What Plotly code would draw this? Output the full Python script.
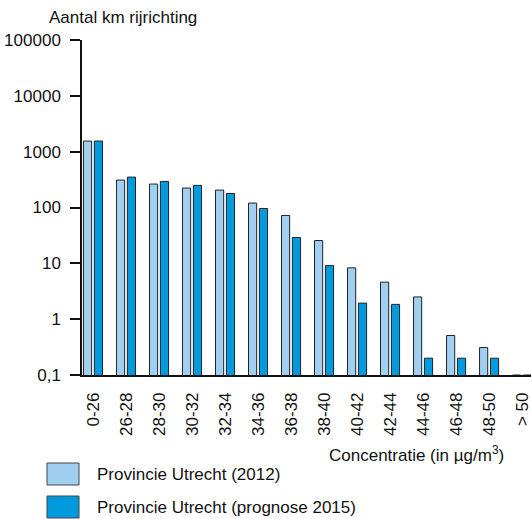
import plotly.graph_objects as go

categories = ["0-26", "26-28", "28-30", "30-32", "32-34", "34-36", "36-38",
              "38-40", "40-42", "42-44", "44-46", "46-48", "48-50", "> 50"]
utrecht_2012 = [1550, 310, 263, 223, 205, 120, 72, 25.6, 8.3, 4.6, 2.5, 0.51, 0.31, 0.1]
utrecht_2015 = [1550, 350, 293, 249, 178, 96, 29, 9.1, 1.94, 1.84, 0.2, 0.2, 0.2, 0.1]
y_tickvals = [0.1, 1, 10, 100, 1000, 10000, 100000]
y_ticktext = ["0,1", "1", "10", "100", "1000", "10000", "100000"]
series_names = ["Provincie Utrecht (2012)", "Provincie Utrecht (prognose 2015)"]
y_title = "Aantal km rijrichting"
x_title = "Concentratie (in µg/m<sup>3</sup>)"

W, H = 531, 519
L, R, T, B = 82, 0, 40, 144
PW, PH = W - L - R, H - T - B
FONT = "Liberation Sans, Arial, sans-serif"
FS = 17
LIGHT = "#A0CFF1"
DARK = "#009BDE"
EDGE = "#222222"


def px(x):
    return (x - L) / PW


def py(y):
    return (H - B - y) / PH


fig = go.Figure()
fig.add_trace(go.Bar(x=categories, y=utrecht_2012, name=series_names[0],
                     marker=dict(color=LIGHT, line=dict(color=EDGE, width=1))))
fig.add_trace(go.Bar(x=categories, y=utrecht_2015, name=series_names[1],
                     marker=dict(color=DARK, line=dict(color=EDGE, width=1))))

shapes = []
annotations = [
    dict(text=y_title, x=px(123), y=py(17), xref="paper", yref="paper",
         showarrow=False, xanchor="center", yanchor="middle",
         font=dict(family=FONT, size=FS, color="#111")),
    dict(text=x_title, x=px(506), y=py(454), xref="paper", yref="paper",
         showarrow=False, xanchor="right", yanchor="middle",
         font=dict(family=FONT, size=FS, color="#111")),
]
for i, (name, col) in enumerate(zip(series_names, [LIGHT, DARK])):
    y0 = 463 + i * 33
    shapes.append(dict(type="rect", xref="paper", yref="paper",
                       x0=px(47), x1=px(79), y0=py(y0), y1=py(y0 + 22),
                       fillcolor=col, line=dict(color="#444", width=1)))
    annotations.append(dict(text=name, x=px(95), y=py(y0 + 11), xref="paper",
                            yref="paper", showarrow=False, xanchor="left",
                            yanchor="middle",
                            font=dict(family=FONT, size=FS, color="#111")))

fig.update_layout(
    width=W, height=H,
    margin=dict(l=L, r=R, t=T, b=B, pad=0),
    paper_bgcolor="white", plot_bgcolor="white",
    barmode="group", bargap=0.34, bargroupgap=0.25,
    showlegend=False, hovermode=False,
    font=dict(family=FONT, size=FS, color="#111"),
    shapes=shapes, annotations=annotations,
)
fig.update_xaxes(range=[-0.333, 13.27], showline=True, linecolor="#111",
                 linewidth=1.5, ticks="", tickangle=-90, ticklabelstandoff=9,
                 showgrid=False, zeroline=False, automargin=False,
                 tickfont=dict(family=FONT, size=FS, color="#111"))
fig.update_yaxes(type="log", range=[-1, 5], showline=True, linecolor="#111",
                 linewidth=1.5, ticks="outside", ticklen=10, tickwidth=1.5,
                 tickcolor="#111", tickvals=y_tickvals, ticktext=y_ticktext,
                 ticklabelstandoff=6, showgrid=False, zeroline=False,
                 automargin=False,
                 tickfont=dict(family=FONT, size=FS, color="#111"))

fig.write_html("out.html", config={"displayModeBar": False},
               post_script="document.body.style.margin='0';")
